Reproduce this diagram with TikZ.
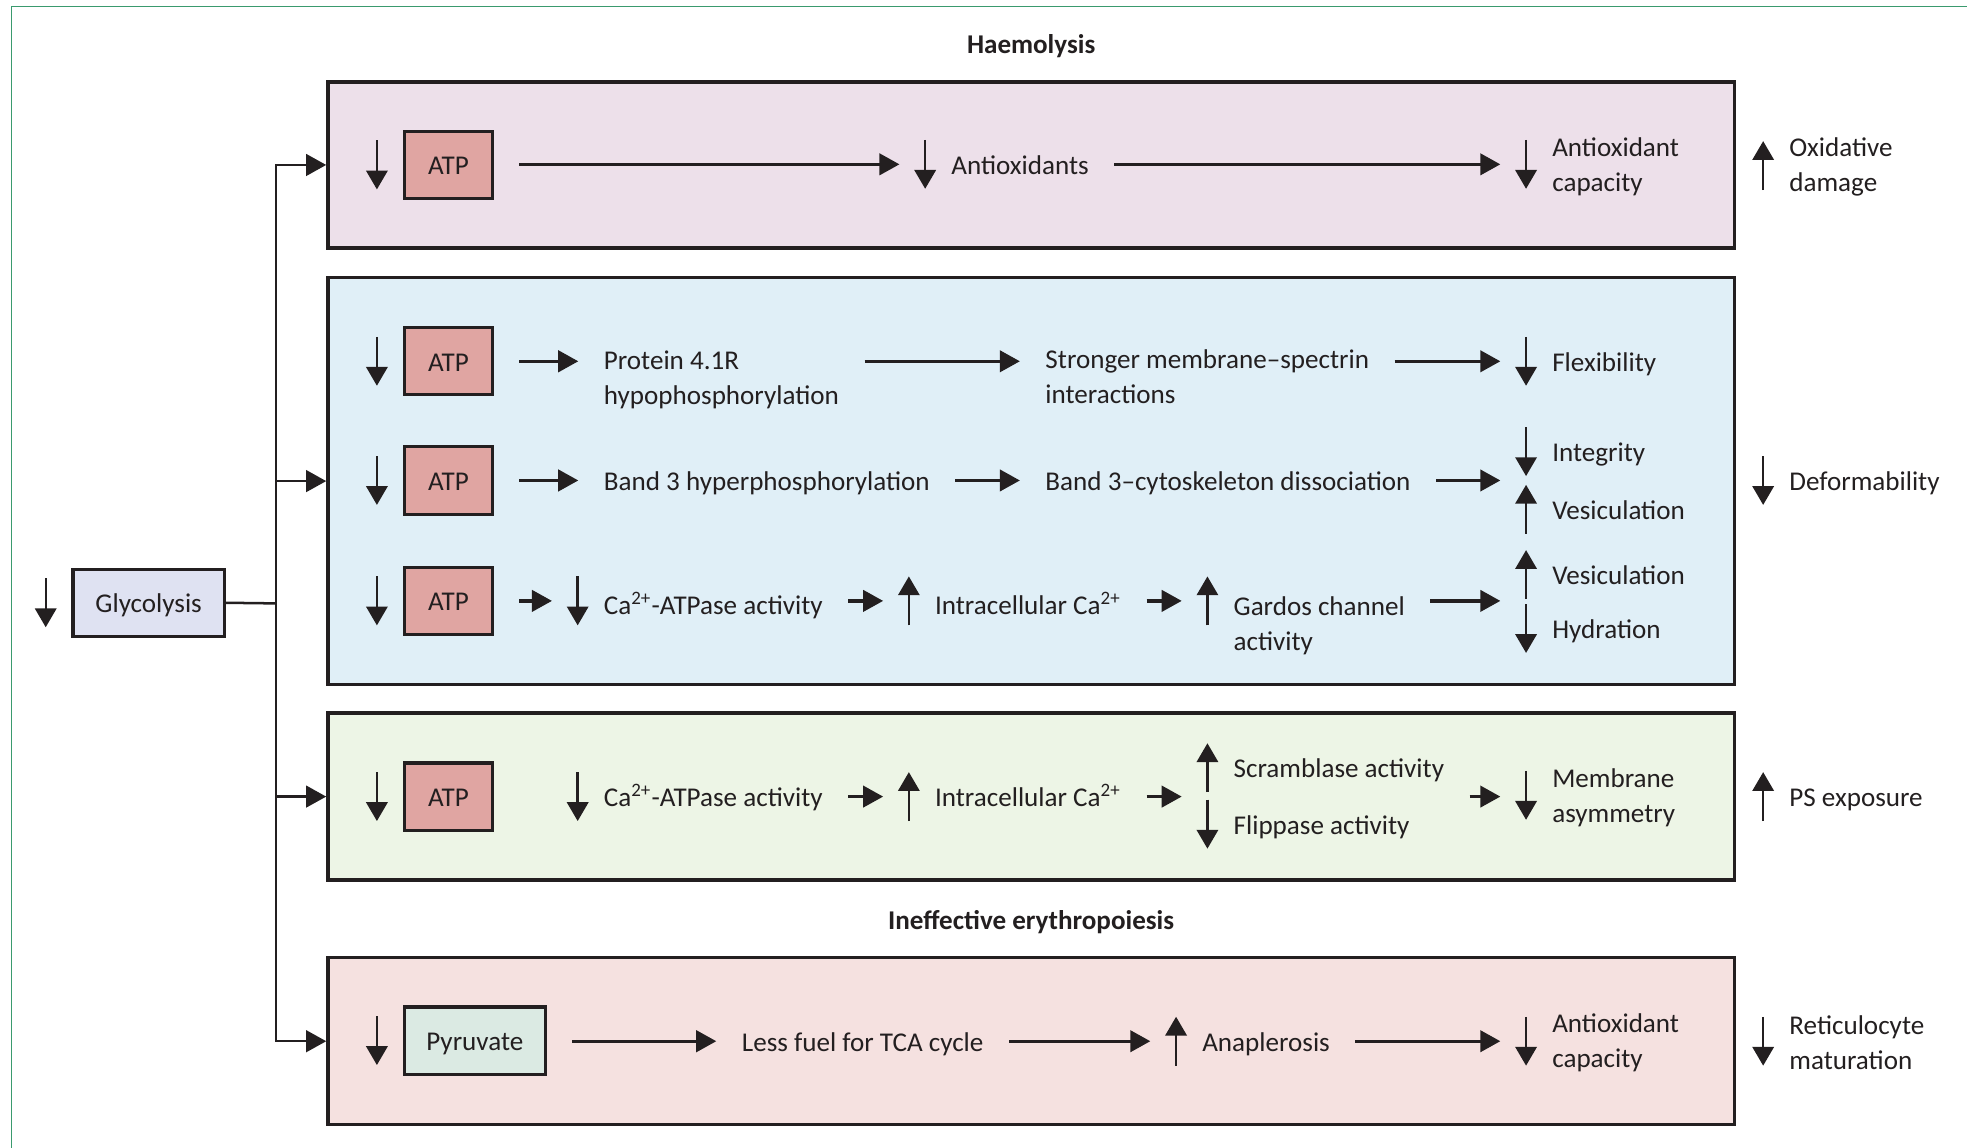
\documentclass[tikz,border=0pt]{standalone}
\usepackage{fontspec}
\setmainfont{Carlito}
\usetikzlibrary{arrows.meta}

\definecolor{ink}{HTML}{231F20}
\definecolor{hemobox}{HTML}{EDE0EA}
\definecolor{deformbox}{HTML}{E0EFF7}
\definecolor{psbox}{HTML}{EDF5E6}
\definecolor{erythbox}{HTML}{F5E1E0}
\definecolor{atpfill}{HTML}{E0A5A2}
\definecolor{glycfill}{HTML}{DFE2F2}
\definecolor{pyrfill}{HTML}{DBEAE3}
\definecolor{framegreen}{HTML}{3A9A6E}

% up/down change markers, set 20.5 units left of a node's west anchor
\newcommand\arrDn[2][0]{\draw[ind] ([shift={(-20.5,#1-19.5)}]#2.west) -- ([shift={(-20.5,#1+19.5)}]#2.west);}
\newcommand\arrUp[2][0]{\draw[ind] ([shift={(-20.5,#1+19.5)}]#2.west) -- ([shift={(-20.5,#1-19.5)}]#2.west);}

\begin{document}
\begin{tikzpicture}[x=0.5pt,y=-0.5pt,
  every node/.style={text=ink, font=\fontsize{10.8}{14}\selectfont},
  lab/.style={anchor=west, inner sep=0pt, text height=8.9pt, text depth=1pt},
  lab2/.style={anchor=west, inner sep=0pt, align=left},
  bigbox/.style={draw=ink, line width=1.35pt, minimum width=560.6pt, inner sep=0pt},
  chip/.style={draw=ink, line width=1.25pt, minimum height=26.8pt, inner sep=0pt,
               text height=8.5pt, text depth=0.6pt},
  conn/.style={draw=ink, line width=1.3pt, -{Triangle[length=8pt,width=8.5pt]},
               shorten <=10pt, shorten >=10pt},
  connI/.style={conn, shorten >=20.5pt},
  ind/.style={draw=ink, line width=0.95pt, -{Triangle[length=7.5pt,width=8.5pt]}},
  feed/.style={draw=ink, line width=1pt, line join=miter},
  branch/.style={feed, -{Triangle[length=8pt,width=8.6pt]}},
  title/.style={font=\bfseries\fontsize{10.8}{14}\selectfont, inner sep=0pt,
                text height=8.9pt, text depth=1pt}
]
\useasboundingbox (0,0) rectangle (1568,915);

% outer rule
\draw[framegreen, line width=0.6pt] (9,915) -- (9,5) -- (1568,5);

% panels
\node[bigbox, fill=hemobox,   minimum height=66.1pt]  (box1) at (822,131.5) {};
\node[bigbox, fill=deformbox, minimum height=162.1pt] (box2) at (822,383.5) {};
\node[bigbox, fill=psbox,     minimum height=66.6pt]  (box3) at (822,635) {};
\node[bigbox, fill=erythbox,  minimum height=66.6pt]  (box4) at (822,830) {};

\node[title] (haem)  at (822,35)  {Haemolysis};
\node[title] (ineff) at (822,733) {Ineffective erythropoiesis};

% row guides
\coordinate (r1)  at (0,131);
\coordinate (r2a) at (0,288);
\coordinate (r2b) at (0,383);
\coordinate (r2c) at (0,479);
\coordinate (r3)  at (0,635);
\coordinate (r4)  at (0,830);

% glycolysis and its branches
\node[chip, fill=glycfill, minimum width=60.3pt] (glyc) at (118.5,480.5) {Glycolysis};
\arrDn{glyc}
\coordinate (junc) at (220,481);
\draw[feed] (glyc.east) -- (junc);
\draw[branch] (junc) |- (box1.west);
\draw[branch] (junc) |- (box2.west);
\draw[branch] (junc) |- (box3.west);
\draw[branch] (junc) |- (box4.west);

% ---- oxidative branch
\node[chip, fill=atpfill, minimum width=35.3pt] (atp1) at (357.5,131.5) {ATP};
\node[lab]  (anti) at (758,131)  {Antioxidants};
\node[lab2] (capA) at (1237,133) {Antioxidant\\capacity};
\node[lab2] (oxd)  at (1426,133) {Oxidative\\damage};
\arrDn{atp1} \arrDn{anti} \arrDn[-2]{capA} \arrUp[-1]{oxd}
\draw[connI] (atp1.east |- r1) -- (anti.west |- r1);
\draw[connI] (anti.east |- r1) -- (capA.west |- r1);

% ---- deformability branch
\node[chip, fill=atpfill, minimum width=35.3pt] (atp2a) at (357.5,288) {ATP};
\node[chip, fill=atpfill, minimum width=35.3pt] (atp2b) at (357.5,383) {ATP};
\node[chip, fill=atpfill, minimum width=35.3pt] (atp2c) at (357.5,479) {ATP};
\arrDn{atp2a} \arrDn{atp2b} \arrDn{atp2c}

\node[lab2] (prot)   at (481,303)  {Protein 4.1R\\hypophosphorylation};
\node[lab2] (strong) at (833,300)  {Stronger membrane--spectrin\\interactions};
\node[lab]  (flex)   at (1237,288) {Flexibility};
\arrDn{flex}
\draw[conn]  (atp2a.east |- r2a)  -- (prot.west |- r2a);
\draw[conn]  (prot.east |- r2a)   -- (strong.west |- r2a);
\draw[connI] (strong.east |- r2a) -- (flex.west |- r2a);

\node[lab] (b3h)   at (481,383)  {Band 3 hyperphosphorylation};
\node[lab] (b3c)   at (833,383)  {Band 3--cytoskeleton dissociation};
\node[lab] (integ) at (1237,360) {Integrity};
\node[lab] (ves1)  at (1237,406) {Vesiculation};
\arrDn{integ} \arrUp{ves1}
\draw[conn]  (atp2b.east |- r2b) -- (b3h.west |- r2b);
\draw[conn]  (b3h.east |- r2b)   -- (b3c.west |- r2b);
\draw[connI] (b3c.east |- r2b)   -- (integ.west |- r2b);

\node[lab]  (caA)    at (481,482)  {Ca\textsuperscript{2+}-ATPase activity};
\node[lab]  (icA)    at (745,482)  {Intracellular Ca\textsuperscript{2+}};
\node[lab2] (gardos) at (983,499)  {Gardos channel\\activity};
\node[lab]  (ves2)   at (1237,458) {Vesiculation};
\node[lab]  (hyd)    at (1237,501) {Hydration};
\arrDn[-3]{caA} \arrUp[-3]{icA} \arrUp[-20]{gardos} \arrUp{ves2} \arrDn{hyd}
\draw[connI] (atp2c.east |- r2c)  -- (caA.west |- r2c);
\draw[connI] (caA.east |- r2c)    -- (icA.west |- r2c);
\draw[connI] (icA.east |- r2c)    -- (gardos.west |- r2c);
\draw[connI] (gardos.east |- r2c) -- (ves2.west |- r2c);

\node[lab] (deform) at (1426,383) {Deformability};
\arrDn{deform}

% ---- phosphatidylserine branch
\node[chip, fill=atpfill, minimum width=35.3pt] (atp3) at (357.5,635) {ATP};
\node[lab]  (caB)  at (481,635)  {Ca\textsuperscript{2+}-ATPase activity};
\node[lab]  (icB)  at (745,635)  {Intracellular Ca\textsuperscript{2+}};
\node[lab]  (scr)  at (983,612)  {Scramblase activity};
\node[lab]  (flip) at (983,657)  {Flippase activity};
\node[lab2] (memb) at (1237,636) {Membrane\\asymmetry};
\node[lab]  (psx)  at (1426,635) {PS exposure};
\arrDn{atp3} \arrDn{caB} \arrUp{icB} \arrUp{scr} \arrDn{flip} \arrDn[-2]{memb} \arrUp{psx}
\draw[connI] (caB.east |- r3) -- (icB.west |- r3);
\draw[connI] (icB.east |- r3) -- (scr.west |- r3);
\draw[connI] (scr.east |- r3) -- (memb.west |- r3);

% ---- erythropoiesis branch
\node[chip, fill=pyrfill, minimum width=56.3pt] (pyr) at (378.5,829.5) {Pyruvate};
\node[lab]  (fuel)  at (591,830)  {Less fuel for TCA cycle};
\node[lab]  (anap)  at (958,830)  {Anaplerosis};
\node[lab2] (capB)  at (1237,831) {Antioxidant\\capacity};
\node[lab2] (retic) at (1426,831) {Reticulocyte\\maturation};
\arrDn{pyr} \arrUp{anap} \arrDn[-1]{capB} \arrDn[-1]{retic}
\draw[conn]  (pyr.east |- r4)  -- (fuel.west |- r4);
\draw[connI] (fuel.east |- r4) -- (anap.west |- r4);
\draw[connI] (anap.east |- r4) -- (capB.west |- r4);
\end{tikzpicture}
\end{document}
